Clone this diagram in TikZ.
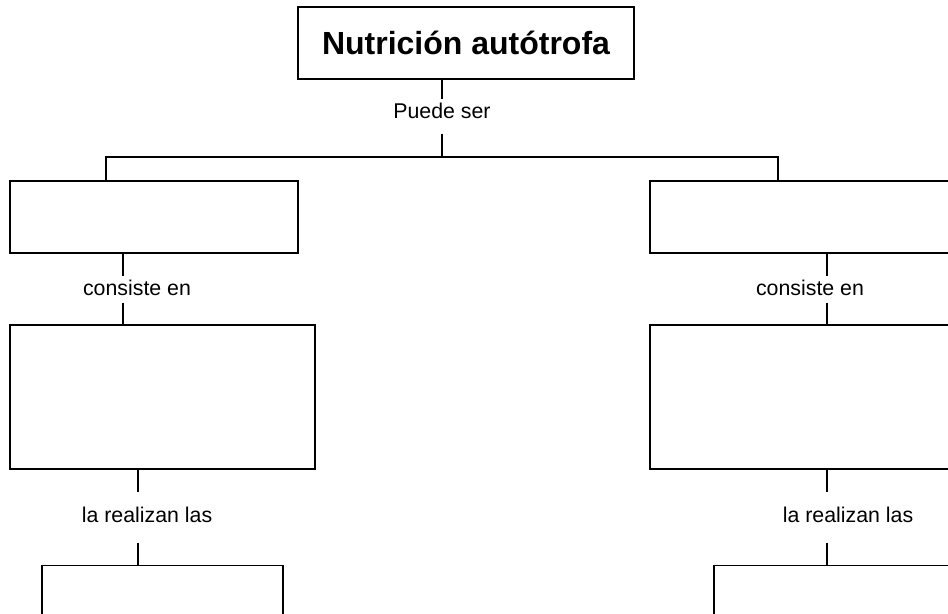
\documentclass[tikz,border=0pt]{standalone}
\usepackage{fontspec}
\setmainfont{Liberation Sans}

\begin{document}
\begin{tikzpicture}[
x=0.75pt, y=-0.75pt,
line width=0.9pt,
titlebox/.style={draw, rectangle, inner sep=0pt, font=\fontsize{24}{29}\selectfont\bfseries},
emptybox/.style={draw, rectangle, inner sep=0pt},
linklabel/.style={inner sep=0pt, anchor=base, font=\fontsize{16}{19}\selectfont},
]
\clip (0,0) rectangle (948,613);

%Nodes
\node[titlebox, minimum width=252pt, minimum height=54pt] (title) at (466,43) {Nutrición autótrofa};
\node[linklabel, text height=13.5pt, text depth=11.25pt] (puede) at (442,118) {Puede ser};
\coordinate (busl) at (106,157);
\coordinate (busr) at (778,157);

\node[emptybox, minimum width=216pt, minimum height=54pt]  (a1) at (154,217)   {};
\node[emptybox, minimum width=228.75pt, minimum height=108pt] (a2) at (162.5,397) {};
\node[emptybox, minimum width=180.75pt, minimum height=56pt]  (a3) at (162.5,602.5) {};

\node[emptybox, minimum width=240pt, minimum height=54pt]  (b1) at (810,217)   {};
\node[emptybox, minimum width=240pt, minimum height=108pt] (b2) at (810,397)   {};
\node[emptybox, minimum width=214.5pt, minimum height=56pt] (b3) at (857,602.5) {};

\node[linklabel, text height=13.5pt, text depth=5.25pt]  (cl) at (137,295) {consiste en};
\node[linklabel, text height=13.5pt, text depth=5.25pt]  (cr) at (810,295) {consiste en};
\node[linklabel, text height=21.75pt, text depth=15pt]   (rl) at (147,522) {la realizan las};
\node[linklabel, text height=21.75pt, text depth=15pt]   (rr) at (848,522) {la realizan las};

%Lines
\draw (title.south -| puede) -- (puede.north);
\draw (puede.south) -- (puede.south |- busl);
\draw (a1.north -| busl) -- (busl) -- (busr) -- (b1.north -| busr);

\draw ([xshift=-10.5pt]cl.north) -- ([xshift=-10.5pt]cl.north |- a1.south);
\draw ([xshift=-10.5pt]cl.south) -- ([xshift=-10.5pt]cl.south |- a2.north);
\draw ([xshift=12.75pt]cr.north) -- ([xshift=12.75pt]cr.north |- b1.south);
\draw ([xshift=12.75pt]cr.south) -- ([xshift=12.75pt]cr.south |- b2.north);

\draw ([xshift=-6.75pt]rl.north) -- ([xshift=-6.75pt]rl.north |- a2.south);
\draw ([xshift=-6.75pt]rl.south) -- ([xshift=-6.75pt]rl.south |- a3.north);
\draw ([xshift=-15.75pt]rr.north) -- ([xshift=-15.75pt]rr.north |- b2.south);
\draw ([xshift=-15.75pt]rr.south) -- ([xshift=-15.75pt]rr.south |- b3.north);

\end{tikzpicture}
\end{document}
